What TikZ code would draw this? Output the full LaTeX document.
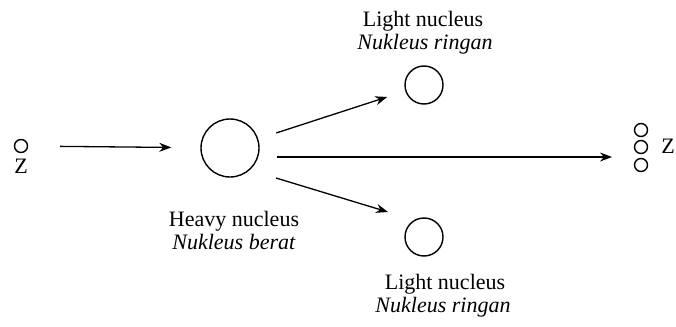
\documentclass[tikz,border=0pt]{standalone}
\usepackage{fontspec}
\setmainfont{Liberation Serif}
\usetikzlibrary{positioning,arrows.meta}

\begin{document}
\begin{tikzpicture}[x=1pt,y=-1pt,>={Stealth[length=12pt,width=9pt]},
  every node/.style={font=\fontsize{22}{24}\selectfont,inner sep=0pt},
  nucleus/.style={draw,circle,line width=1.4pt,inner sep=0pt},
  flow/.style={->,line width=1.3pt}]
\useasboundingbox (0,0) rectangle (676,326);
% incoming particle
\node[nucleus,minimum size=13pt] (zin) at (21,146) {};
\node[anchor=base] (zinlab) at (21,173) {Z};
% heavy nucleus
\node[nucleus,minimum size=58pt] (heavy) at (230,148) {};
\node[anchor=base] (heavylab) at (234,226) {Heavy nucleus};
\node[anchor=base] (heavyit) at (234,249) {\textit{Nukleus berat}};
% light nuclei
\node[nucleus,minimum size=38pt] (lightup) at (424,85) {};
\node[anchor=base] (lightuplab) at (423,27) {Light nucleus};
\node[anchor=base] (lightupit) at (425,50) {\textit{Nukleus ringan}};
\node[nucleus,minimum size=38pt] (lightdown) at (424,237) {};
\node[anchor=base] (lightdownlab) at (445,289) {Light nucleus};
\node[anchor=base] (lightdownit) at (443,312) {\textit{Nukleus ringan}};
% outgoing particles
\node[nucleus,minimum size=13pt] (zout1) at (641,130) {};
\node[nucleus,minimum size=13pt] (zout2) at (641,147) {};
\node[nucleus,minimum size=13pt] (zout3) at (641,165) {};
\node[anchor=base] (zoutlab) at (668,153) {Z};
\coordinate (midstart) at (277,157);
\coordinate (midend) at (612,157);
\coordinate (lowstart) at (276,178);
\coordinate (lowend) at (388,212);
\draw[flow,shorten <=32pt,shorten >=29pt] (zin) -- (heavy);
\draw[flow,shorten <=19pt,shorten >=19pt] (heavy) -- (lightup);
\draw[flow] (midstart) -- (midend);
\draw[flow] (lowstart) -- (lowend);
\end{tikzpicture}
\end{document}
